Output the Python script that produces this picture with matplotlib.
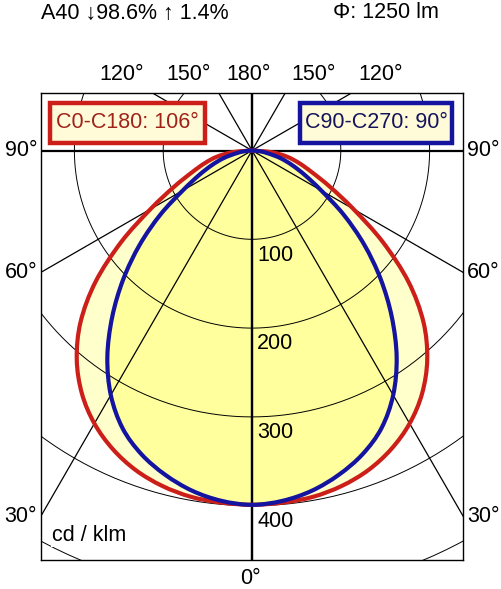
import numpy as np
import matplotlib.pyplot as plt
from matplotlib.patches import Rectangle, PathPatch
from matplotlib.path import Path

plt.rcParams['font.family'] = ['Liberation Sans', 'DejaVu Sans']

# polar intensity data in cd/klm, gamma measured from nadir
gamma = [0, 5, 10, 15, 20, 25, 30, 35, 40, 45, 50, 55, 60, 65, 70, 75, 80, 85, 90]
c0_c180 = [399, 398, 396, 391, 383, 371, 355, 334, 307, 273, 230, 180, 132, 97, 72, 55, 40, 22, 0]
c90_c270 = [399, 396, 389, 378, 364, 345, 318, 284, 245, 205, 165, 126, 90, 66, 48, 33, 18, 8, 0]

rings = [100, 200, 300, 400, 500, 600]
ring_labels = ["100", "200", "300", "400"]
spokes = [0, 30, 60, 90, 120, 150, 180]

header_left = "A40 \u219398.6% \u2191 1.4%"
header_right = "\u03a6: 1250 lm"
label_red = "C0-C180: 106\u00b0"
label_blue = "C90-C270: 90\u00b0"
unit = "cd / klm"

FS = 15.5
W, H = 502, 589
fig = plt.figure(figsize=(W / 100, H / 100), dpi=100)

# axes box in pixels: x 41..463, y 93..560
ax = fig.add_axes([41 / W, 1 - 560 / H, 422 / W, 467 / H])
scale = 0.888  # px per cd/klm
cx, cy = 252, 150.5
ax.set_xlim((41 - cx) / scale, (463 - cx) / scale)
ax.set_ylim(-(560 - cy) / scale, (cy - 93) / scale)
ax.set_aspect('equal')
ax.set_xticks([])
ax.set_yticks([])
for s in ax.spines.values():
    s.set_linewidth(1.0)


def curve_path(vals):
    g = np.radians(np.array(gamma, dtype=float))
    v = np.array(vals, dtype=float)
    # left half from 90 down to 0, then right half from 0 up to 90
    x = np.concatenate([-(v * np.sin(g))[::-1], (v * np.sin(g))[1:]])
    y = np.concatenate([-(v * np.cos(g))[::-1], -(v * np.cos(g))[1:]])
    p = np.column_stack([x, y])
    # smooth Catmull-Rom style bezier through the measured points
    ext = np.vstack([p[0], p, p[-1]])
    verts = [p[0]]
    codes = [Path.MOVETO]
    for i in range(len(p) - 1):
        p0, p1, p2, p3 = ext[i], ext[i + 1], ext[i + 2], ext[i + 3]
        verts += [p1 + (p2 - p0) / 6, p2 - (p3 - p1) / 6, p2]
        codes += [Path.CURVE4] * 3
    return Path(verts, codes)


red_path = curve_path(c0_c180)
blue_path = curve_path(c90_c270)
ax.add_patch(PathPatch(red_path, facecolor='#FFFFCC', lw=0, zorder=1))
ax.add_patch(PathPatch(blue_path, facecolor='#FFFF9E', lw=0, zorder=1.1))

# grid
t = np.linspace(0, 2 * np.pi, 400)
for r in rings:
    ax.plot(r * np.cos(t), r * np.sin(t), color='black', lw=0.7, zorder=2)
for a in spokes:
    ar = np.radians(a)
    lw = 1.6 if a in (0, 90, 180) else 0.9
    for side in (-1, 1):
        ax.plot([0, side * 1000 * np.sin(ar)], [0, -1000 * np.cos(ar)],
                color='black', lw=lw, zorder=2)

ax.add_patch(PathPatch(red_path, facecolor='none', edgecolor='#CC1F1A',
                       lw=3.0, zorder=3, joinstyle='round'))
ax.add_patch(PathPatch(blue_path, facecolor='none', edgecolor='#1414A0',
                       lw=3.0, zorder=4, joinstyle='round'))

for r, lab in zip(rings, ring_labels):
    ax.text(6, -(r + 6), lab, fontsize=FS, ha='left', va='top', zorder=5)

ax.text(-225, -433, unit, fontsize=FS, ha='left', va='center', zorder=5,
        bbox=dict(facecolor='white', edgecolor='none', pad=1))


def ftext(x, y, s, **kw):
    fig.text(x / W, 1 - y / H, s, fontsize=FS, va='center', **kw)


ftext(41, 13, header_left, ha='left')
ftext(333, 13, header_right, ha='left')
for x, s in [(122, "120\u00b0"), (189, "150\u00b0"), (249, "180\u00b0"),
             (314, "150\u00b0"), (381, "120\u00b0")]:
    ftext(x, 74, s, ha='center')
for y, s in [(151, "90\u00b0"), (273, "60\u00b0"), (516, "30\u00b0")]:
    ftext(37, y, s, ha='right')
    ftext(467, y, s, ha='left')
ftext(250, 578, "0\u00b0", ha='center')

# legend boxes
for x0, x1, ec, tc, s in [(50, 205, '#CC1F1A', '#A0231A', label_red),
                          (300, 452, '#1414A0', '#14145A', label_blue)]:
    fig.patches.append(Rectangle((x0 / W, 1 - 143 / H), (x1 - x0) / W, 40 / H,
                                 transform=fig.transFigure, facecolor='#FFFBD8',
                                 edgecolor=ec, lw=3.2, zorder=6))
    fig.text((x0 + x1) / 2 / W, 1 - 123 / H, s, fontsize=FS, color=tc,
             ha='center', va='center', zorder=7)

fig.savefig('out.png', dpi=100)
